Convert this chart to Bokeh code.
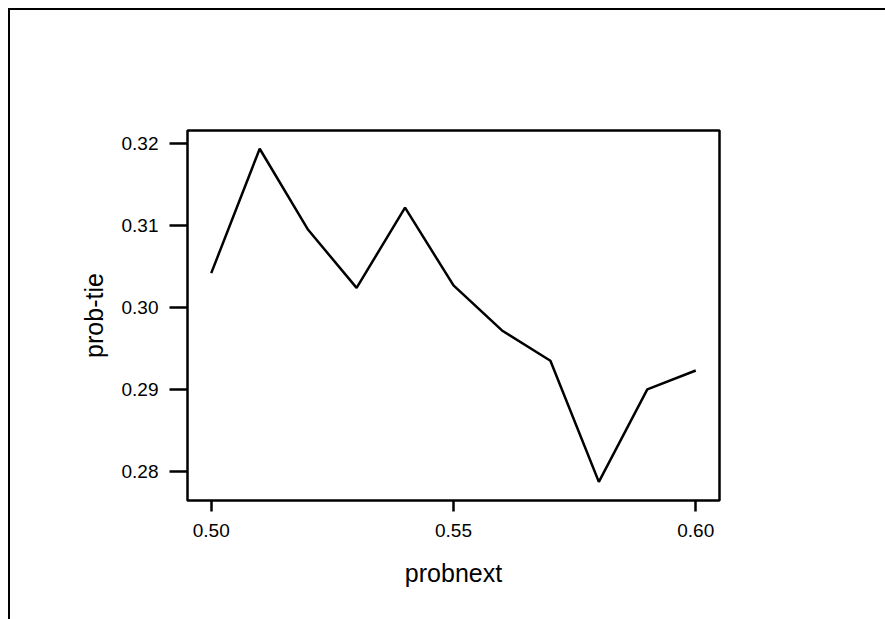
from bokeh.plotting import figure
from bokeh.embed import file_html
from bokeh.resources import INLINE
from bokeh.models import FixedTicker, Range1d, CustomJSTickFormatter

probnext = [0.50, 0.51, 0.52, 0.53, 0.54, 0.55, 0.56, 0.57, 0.58, 0.59, 0.60]
prob_tie = [0.3042, 0.3194, 0.3095, 0.3024, 0.3122, 0.3027, 0.2972, 0.2935, 0.2787, 0.2900, 0.2923]
x_ticks = [0.50, 0.55, 0.60]
y_ticks = [0.28, 0.29, 0.30, 0.31, 0.32]
x_label = "probnext"
y_label = "prob-tie"

FONT = "Liberation Sans"

p = figure(width=875, height=609, output_backend="svg", toolbar_location=None,
           x_range=Range1d(0.4951, 0.6049), y_range=Range1d(0.27642, 0.32163),
           frame_width=532, frame_height=370,
           min_border_left=177, min_border_top=120, min_border_right=166, min_border_bottom=119)
p.styles = {"border-left": "2px solid black", "border-top": "2px solid black",
            "margin-left": "8px", "margin-top": "8px"}

p.line(probnext, prob_tie, line_color="black", line_width=2.5)

p.grid.visible = False
p.outline_line_color = "black"
p.outline_line_width = 2.5
p.outline_line_alpha = 1.0

p.xaxis.ticker = FixedTicker(ticks=x_ticks)
p.yaxis.ticker = FixedTicker(ticks=y_ticks)
for ax in (p.xaxis, p.yaxis):
    ax.axis_line_color = None
    ax.minor_tick_line_color = None
    ax.major_tick_line_color = "black"
    ax.major_tick_line_width = 2.5
    ax.major_tick_in = 0
    ax.major_label_text_font = FONT
    ax.major_label_text_font_size = "19px"
    ax.major_label_text_color = "black"
    ax.axis_label_text_font = FONT
    ax.axis_label_text_font_style = "normal"
    ax.axis_label_text_color = "black"
    ax.axis_label_text_font_size = "25px"

p.xaxis.formatter = CustomJSTickFormatter(code="return tick.toFixed(2);")
p.yaxis.formatter = CustomJSTickFormatter(code="return tick.toFixed(2);")

p.xaxis.major_tick_out = 11
p.yaxis.major_tick_out = 18
p.xaxis.major_label_standoff = 12
p.yaxis.major_label_standoff = 11
p.xaxis.axis_label = x_label
p.yaxis.axis_label = y_label
p.xaxis.axis_label_standoff = 19
p.yaxis.axis_label_standoff = 11

open("out.html", "w").write(file_html(p, INLINE))
